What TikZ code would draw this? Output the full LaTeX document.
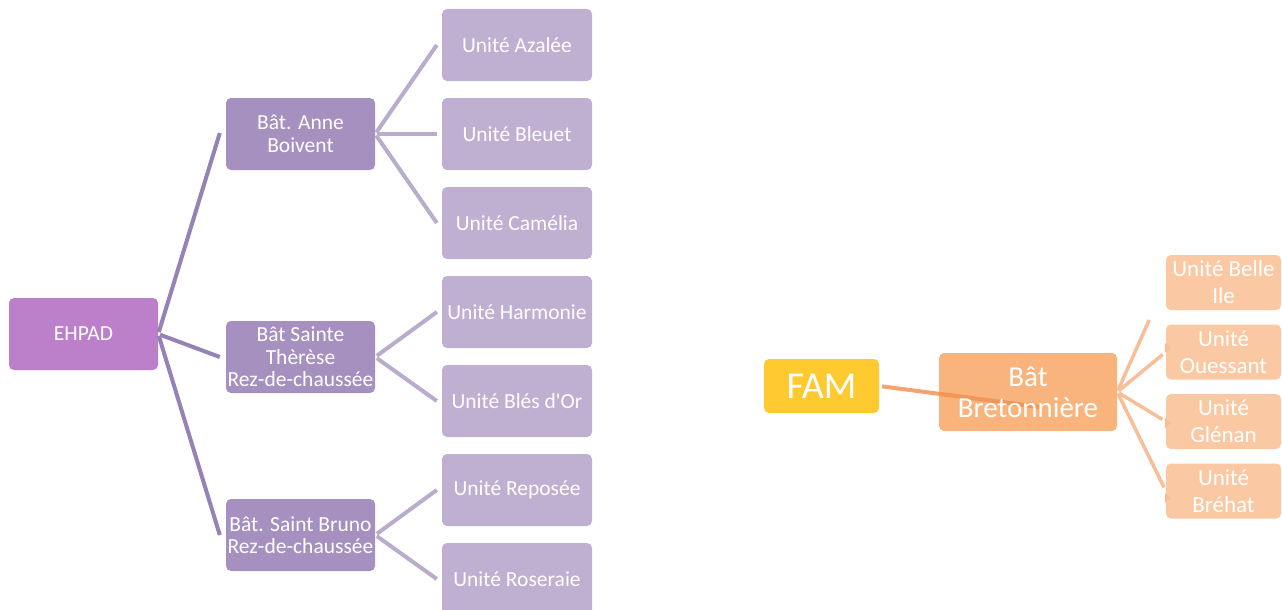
\documentclass[tikz,border=0pt]{standalone}
\usepackage{fontspec}
\setmainfont{Carlito}
\usetikzlibrary{calc}
\definecolor{cRoot}{HTML}{BC80CA}
\definecolor{cMid}{HTML}{A690C0}
\definecolor{cLeaf}{HTML}{BFB0D2}
\definecolor{cLineA}{HTML}{9682B4}
\definecolor{cLineB}{HTML}{B9ACCD}
\definecolor{cFam}{HTML}{FFCA30}
\definecolor{cBret}{HTML}{F9B47E}
\definecolor{cUnit}{HTML}{FAC8A2}
\definecolor{cLineR}{HTML}{F8BE98}
\definecolor{cLineF}{HTML}{F6A46E}
\definecolor{cLineFd}{HTML}{F2965A}
\begin{document}
\begin{tikzpicture}[x=1pt,y=-1pt,
  box/.style={rectangle, rounded corners=5pt, text=white, inner sep=0pt, align=center},
  lbox/.style={box, minimum width=149pt, minimum height=72pt, font=\fontsize{21.5}{22.5}\selectfont},
  rootbox/.style={lbox, fill=cRoot},
  midbox/.style={lbox, fill=cMid},
  leafbox/.style={lbox, fill=cLeaf, minimum width=150pt},
  fambox/.style={box, fill=cFam, minimum width=115pt, minimum height=54pt, font=\fontsize{38}{42}\selectfont},
  bretbox/.style={box, fill=cBret, minimum width=178pt, minimum height=78pt},
  brettext/.style={text=white, align=center, inner sep=0pt, font=\fontsize{29}{31}\selectfont},
  unitbox/.style={box, fill=cUnit, minimum width=115pt, minimum height=55pt, font=\fontsize{23}{27}\selectfont},
  linka/.style={draw=cLineA, line width=4pt},
  linkb/.style={draw=cLineB, line width=4pt},
  linkr/.style={draw=cLineR, line width=3.5pt},
  linkf/.style={draw=cLineF, line width=4pt}
]
\useasboundingbox (0,0) rectangle (1282,610);
\clip (0,0) rectangle (1282,610);
\fill[white] (0,0) rectangle (1282,610);

% left tree nodes
\node[rootbox] (ehpad) at (83.5,334) {EHPAD};
\node[midbox] (anne) at (300.5,134) {Bât. Anne\\Boivent};
\node[midbox] (therese) at (300.5,357) {Bât Sainte\\Thèrèse\\Rez-de-chaussée};
\node[midbox] (bruno) at (300.5,535) {Bât. Saint Bruno\\Rez-de-chaussée};
\node[leafbox] (azalee) at (517,45) {Unité Azalée};
\node[leafbox] (bleuet) at (517,134) {Unité Bleuet};
\node[leafbox] (camelia) at (517,223) {Unité Camélia};
\node[leafbox] (harmonie) at (517,312) {Unité Harmonie};
\node[leafbox] (bles) at (517,401) {Unité Blés d\textquotesingle Or};
\node[leafbox] (reposee) at (517,490) {Unité Reposée};
\node[leafbox] (roseraie) at (517,579) {Unité Roseraie};

% right tree nodes
\node[fambox] (fam) at (821.5,386) {FAM};
\node[bretbox] (bret) at (1028,392) {};
\node[unitbox] (belle) at (1223.5,282.5) {Unité Belle\\Ile};
\node[unitbox] (ouessant) at (1223.5,352) {Unité\\Ouessant};
\node[unitbox] (glenan) at (1223.5,421.5) {Unité\\Glénan};
\node[unitbox] (brehat) at (1223.5,491) {Unité\\Bréhat};

% left connectors
\draw[linka, shorten <=2pt] (ehpad.east) -- ($(anne.west)+(-6,-1)$);
\draw[linka, shorten <=2pt] (ehpad.east) -- ($(therese.west)+(-6,0)$);
\draw[linka, shorten <=2pt] (ehpad.east) -- ($(bruno.west)+(-6,0)$);
\draw[linkb, shorten <=2pt] (anne.east) -- ($(azalee.west)+(-5,0)$);
\draw[linkb, shorten <=2pt] (anne.east) -- ($(bleuet.west)+(-5,0)$);
\draw[linkb, shorten <=2pt] (anne.east) -- ($(camelia.west)+(-5,0)$);
\draw[linkb, shorten <=2pt] (therese.east) -- ($(harmonie.west)+(-5,0)$);
\draw[linkb, shorten <=2pt] (therese.east) -- ($(bles.west)+(-5,0)$);
\draw[linkb, shorten <=2pt] (bruno.east) -- ($(reposee.west)+(-5,0)$);
\draw[linkb, shorten <=2pt] (bruno.east) -- ($(roseraie.west)+(-5,0)$);

% right connectors
\draw[linkr, shorten <=2pt, shorten >=41pt] (bret.east) -- (belle.west);
\draw[linkr, shorten <=2pt, shorten >=4pt] (bret.east) -- (ouessant.west);
\draw[linkr, shorten <=2pt, shorten >=4pt] (bret.east) -- (glenan.west);
\draw[linkr, shorten <=2pt, shorten >=4pt] (bret.east) -- (brehat.west);
\fill[cLineR] ($(ouessant.west)+(-1,-9)$) -- ($(ouessant.west)+(5,-4)$) -- ($(ouessant.west)+(-1,1)$) -- cycle;
\fill[cLineR] ($(glenan.west)+(-1,-4)$) -- ($(glenan.west)+(5,1.5)$) -- ($(glenan.west)+(-1,7)$) -- cycle;
\fill[cLineR] ($(brehat.west)+(-1,2)$) -- ($(brehat.west)+(5,7)$) -- ($(brehat.west)+(-1,12)$) -- cycle;

% FAM connector (drawn over the Bretonnière box, under its text)
\coordinate (famend) at ($(bret.center)+(12,15)$);
\draw[linkf, shorten <=3pt] (fam.east) -- (famend);
\begin{scope}
  \clip[rounded corners=5pt] (bret.south west) rectangle (bret.north east);
  \draw[draw=cLineFd, line width=4pt, shorten <=3pt] (fam.east) -- (famend);
\end{scope}
\node[brettext] at (bret.center) {Bât\\Bretonnière};
\end{tikzpicture}
\end{document}
